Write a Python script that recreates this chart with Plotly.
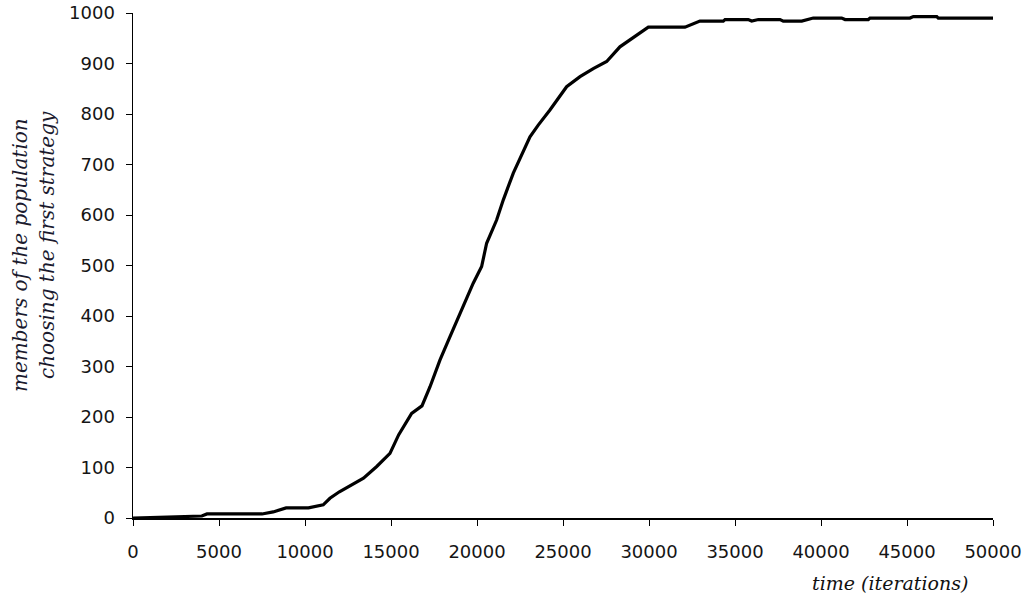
import plotly.graph_objects as go

# time (iterations)
time_iter = [0, 2250, 4000, 4300, 7500, 8150, 8900, 10200, 11060, 11450, 12000, 13400,
             14170, 14940, 15450, 16200, 16800, 17270, 17850, 18430, 19200, 19780,
             20270, 20560, 21140, 21530, 22110, 23080, 23560, 24240, 25210, 25990,
             26760, 27540, 28310, 29280, 29960, 32090, 32960, 34320, 34420, 35770,
             35970, 36360, 37620, 37810, 38880, 39550, 41200, 41400, 42750, 42850,
             45170, 45370, 46730, 46820, 50000]
# members choosing the first strategy
members = [0, 3, 4, 8, 8, 12, 20, 20, 26, 39, 52, 79,
           102, 128, 165, 207, 222, 260, 313, 359, 418, 465,
           498, 544, 590, 630, 683, 755, 778, 808, 854, 874,
           890, 904, 933, 956, 972, 972, 984, 984, 987, 987,
           984, 987, 987, 984, 984, 990, 990, 987, 987, 990,
           990, 993, 993, 990, 990]

x_ticks = list(range(0, 50001, 5000))
y_ticks = list(range(0, 1001, 100))

fig = go.Figure()
fig.add_trace(go.Scatter(x=time_iter, y=members, mode="lines",
                         line=dict(color="black", width=3.2), showlegend=False,
                         hoverinfo="skip"))

fig.update_layout(
    width=1024, height=602,
    margin=dict(l=133, r=31, t=13, b=84),
    paper_bgcolor="white", plot_bgcolor="white",
    font=dict(family="DejaVu Sans, Arial, sans-serif", size=18, color="#151515"),
)
fig.update_xaxes(range=[0, 50000], tickvals=x_ticks, ticktext=[str(v) for v in x_ticks],
                 showgrid=False, zeroline=False, showline=True, linecolor="black",
                 linewidth=1.5, ticks="outside", ticklen=6, tickcolor="black",
                 ticklabelstandoff=11, automargin=False)
fig.update_yaxes(range=[0, 1000], tickvals=y_ticks, ticktext=[str(v) for v in y_ticks],
                 showgrid=False, zeroline=False, showline=True, linecolor="black",
                 linewidth=1.5, ticks="outside", ticklen=6, tickcolor="black",
                 ticklabelstandoff=7, automargin=False)

ann_font = dict(family="DejaVu Serif, Liberation Serif, serif", size=20, color="#1a1a2e")

# helpers: page pixel -> plot-area fraction (plot area spans x 133..993, y 13..518)
def px_x(px):
    return (px - 133) / (993 - 133)

def px_y(py):
    return (518 - py) / (518 - 13)

fig.add_annotation(text="<i>members of the population</i>", x=px_x(20), y=px_y(255),
                   xref="paper", yref="paper", showarrow=False, textangle=-90,
                   xanchor="center", yanchor="middle", font=ann_font)
fig.add_annotation(text="<i>choosing the first strategy</i>", x=px_x(47), y=px_y(245),
                   xref="paper", yref="paper", showarrow=False, textangle=-90,
                   xanchor="center", yanchor="middle", font=ann_font)
fig.add_annotation(text="<i>time (iterations)</i>", x=px_x(890), y=px_y(583),
                   xref="paper", yref="paper", showarrow=False,
                   xanchor="center", yanchor="middle",
                   font=dict(family="DejaVu Serif, Liberation Serif, serif", size=19, color="#111"))

fig.write_html("out.html", config={"displayModeBar": False, "staticPlot": True},
               post_script="document.body.style.margin='0';document.body.style.overflow='hidden';")
